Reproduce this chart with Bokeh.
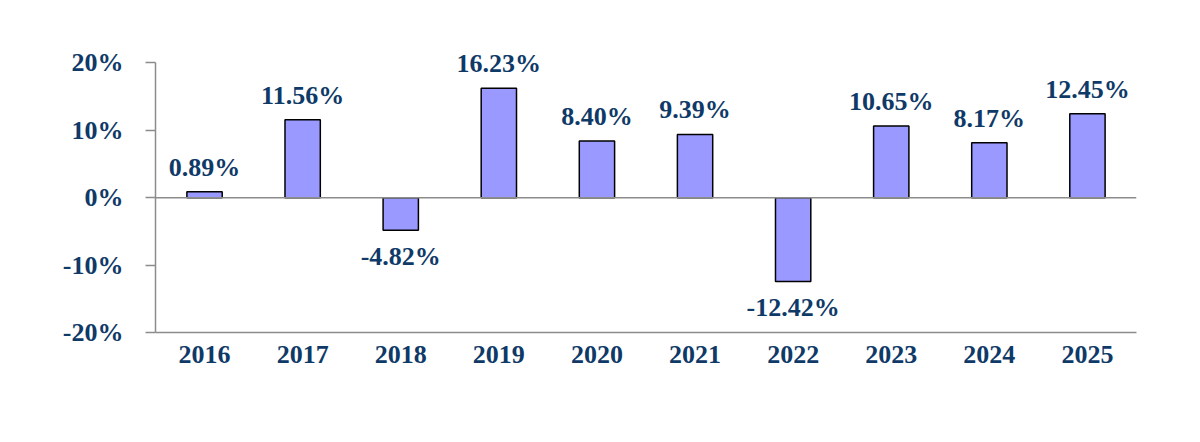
from bokeh.plotting import figure
from bokeh.models import ColumnDataSource, FixedTicker, Range1d, FactorRange, Span, LabelSet
from bokeh.embed import file_html
from bokeh.resources import INLINE

# Annual returns, in percent
years = ["2016", "2017", "2018", "2019", "2020", "2021", "2022", "2023", "2024", "2025"]
returns = [0.89, 11.56, -4.82, 16.23, 8.40, 9.39, -12.42, 10.65, 8.17, 12.45]
y_ticks = [-20, -10, 0, 10, 20]
y_tick_labels = ["-20%", "-10%", "0%", "10%", "20%"]

FONT = "Liberation Serif"
TEXT_COLOR = "#0F3A68"
AXIS_COLOR = "#8C8C8C"
FONT_SIZE = "26px"

labels = [f"{v:.2f}%" for v in returns]
src = ColumnDataSource(dict(year=years, ret=returns, label=labels))
pos = ColumnDataSource(dict(
    year=[y for y, v in zip(years, returns) if v >= 0],
    ret=[v for v in returns if v >= 0],
    label=[l for l, v in zip(labels, returns) if v >= 0],
))
neg = ColumnDataSource(dict(
    year=[y for y, v in zip(years, returns) if v < 0],
    ret=[v for v in returns if v < 0],
    label=[l for l, v in zip(labels, returns) if v < 0],
))

# The frame reaches above the 20% tick so the tallest bar's label has room;
# the y axis line itself is bounded to the -20%..20% span.
p = figure(
    width=1200, height=442,
    x_range=FactorRange(*years, range_padding=0),
    y_range=Range1d(-20, 26),
    output_backend="svg", toolbar_location=None,
    min_border_left=155, min_border_right=64,
    min_border_top=22, min_border_bottom=110,
)
p.outline_line_color = None
p.grid.visible = False
p.background_fill_color = "white"
p.border_fill_color = "white"

p.vbar(x="year", top="ret", bottom=0, width=0.36, source=src,
       fill_color="#9999FF", line_color="black", line_width=1.5)

p.add_layout(Span(location=0, dimension="width", line_color=AXIS_COLOR, line_width=1.5))

p.add_layout(LabelSet(x="year", y="ret", text="label", source=pos,
                      text_align="center", text_baseline="alphabetic", y_offset=16,
                      text_font=FONT, text_font_style="bold", text_font_size=FONT_SIZE,
                      text_color=TEXT_COLOR))
p.add_layout(LabelSet(x="year", y="ret", text="label", source=neg,
                      text_align="center", text_baseline="alphabetic", y_offset=-35,
                      text_font=FONT, text_font_style="bold", text_font_size=FONT_SIZE,
                      text_color=TEXT_COLOR))

ya = p.yaxis[0]
ya.ticker = FixedTicker(ticks=y_ticks)
ya.bounds = (-20, 20)
ya.major_label_overrides = dict(zip(y_ticks, y_tick_labels))
ya.minor_tick_line_color = None
ya.major_tick_in = 0
ya.major_tick_out = 10
ya.major_label_standoff = 22
ya.axis_line_color = AXIS_COLOR
ya.axis_line_width = 1.5
ya.major_tick_line_color = AXIS_COLOR
ya.major_tick_line_width = 1.5
ya.major_label_text_font = FONT
ya.major_label_text_font_style = "bold"
ya.major_label_text_font_size = FONT_SIZE
ya.major_label_text_color = TEXT_COLOR

xa = p.xaxis[0]
xa.major_tick_line_color = None
xa.minor_tick_line_color = None
xa.major_tick_out = 0
xa.major_tick_in = 0
xa.major_label_standoff = 13
xa.axis_line_color = AXIS_COLOR
xa.axis_line_width = 1.5
xa.major_label_text_font = FONT
xa.major_label_text_font_style = "bold"
xa.major_label_text_font_size = FONT_SIZE
xa.major_label_text_color = TEXT_COLOR

open("out.html", "w").write(file_html(p, INLINE))
